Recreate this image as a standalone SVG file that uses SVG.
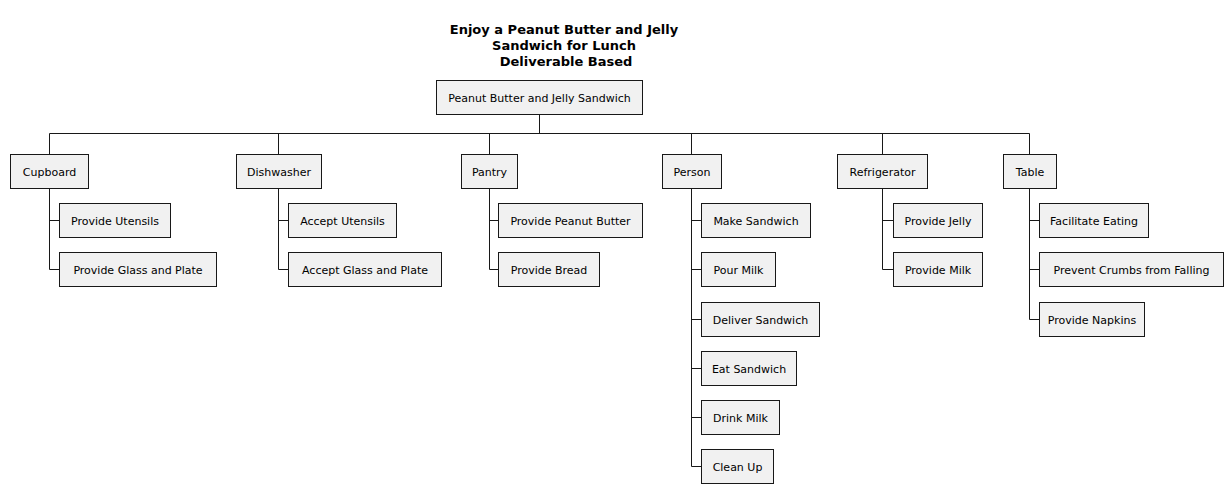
<svg xmlns="http://www.w3.org/2000/svg" width="1232" height="493" viewBox="0 0 1232 493">
<style>
.n rect{fill:#F1F1F1;stroke:#181818;stroke-width:1}
.n text{font-family:"DejaVu Sans","Liberation Sans",sans-serif;font-size:11px;fill:#000;text-anchor:middle}
.t{font-family:"DejaVu Sans","Liberation Sans",sans-serif;font-size:13px;font-weight:bold;fill:#000;text-anchor:middle}
#connectors path{fill:none;stroke:#181818;stroke-width:1}
</style>
<rect width="1232" height="493" fill="#fff"/>
<g id="title">
<text class="t" x="564" y="34">Enjoy a Peanut Butter and Jelly</text>
<text class="t" x="564" y="50">Sandwich for Lunch</text>
<text class="t" x="566" y="66">Deliverable Based</text>
</g>
<g id="connectors">
<path d="M539.5,114 V133.5 M49.5,133.5 H1029.5 M49.5,133.5 V154 M278.5,133.5 V154 M489.5,133.5 V154 M691.5,133.5 V154 M882.5,133.5 V154 M1029.5,133.5 V154"/>
<path d="M49.5,188 V269.5 H59 M49.5,220.5 H59"/>
<path d="M278.5,188 V269.5 H288 M278.5,220.5 H288"/>
<path d="M489.5,188 V269.5 H498 M489.5,220.5 H498"/>
<path d="M691.5,188 V466.5 H701 M691.5,220.5 H701 M691.5,269.5 H701 M691.5,319.5 H701 M691.5,368.5 H701 M691.5,417.5 H701"/>
<path d="M882.5,188 V269.5 H893 M882.5,220.5 H893"/>
<path d="M1029.5,188 V319.5 H1039 M1029.5,220.5 H1039 M1029.5,269.5 H1039"/>
</g>
<g id="root" class="n"><rect x="436.5" y="80.5" width="206" height="34"/><text x="539.5" y="101.5">Peanut Butter and Jelly Sandwich</text></g>
<g id="cupboard" class="n"><rect x="10.5" y="154.5" width="78" height="34"/><text x="49.5" y="175.5">Cupboard</text></g>
<g id="dishwasher" class="n"><rect x="236.5" y="154.5" width="85" height="34"/><text x="279" y="175.5">Dishwasher</text></g>
<g id="pantry" class="n"><rect x="461.5" y="154.5" width="56" height="34"/><text x="489.5" y="175.5">Pantry</text></g>
<g id="person" class="n"><rect x="662.5" y="154.5" width="59" height="34"/><text x="692" y="175.5">Person</text></g>
<g id="refrigerator" class="n"><rect x="837.5" y="154.5" width="90" height="34"/><text x="882.5" y="175.5">Refrigerator</text></g>
<g id="table" class="n"><rect x="1003.5" y="154.5" width="53" height="34"/><text x="1030" y="175.5">Table</text></g>
<g id="provide-utensils" class="n"><rect x="59.5" y="203.5" width="111" height="34"/><text x="115" y="224.5">Provide Utensils</text></g>
<g id="provide-glass-plate" class="n"><rect x="59.5" y="252.5" width="157" height="34"/><text x="138" y="273.5">Provide Glass and Plate</text></g>
<g id="accept-utensils" class="n"><rect x="288.5" y="203.5" width="108" height="34"/><text x="342.5" y="224.5">Accept Utensils</text></g>
<g id="accept-glass-plate" class="n"><rect x="288.5" y="252.5" width="153" height="34"/><text x="365" y="273.5">Accept Glass and Plate</text></g>
<g id="provide-peanut-butter" class="n"><rect x="498.5" y="203.5" width="144" height="34"/><text x="570.5" y="224.5">Provide Peanut Butter</text></g>
<g id="provide-bread" class="n"><rect x="498.5" y="252.5" width="101" height="34"/><text x="549" y="273.5">Provide Bread</text></g>
<g id="make-sandwich" class="n"><rect x="701.5" y="203.5" width="109" height="34"/><text x="756" y="224.5">Make Sandwich</text></g>
<g id="pour-milk" class="n"><rect x="701.5" y="252.5" width="74" height="34"/><text x="738.5" y="273.5">Pour Milk</text></g>
<g id="deliver-sandwich" class="n"><rect x="701.5" y="302.5" width="118" height="34"/><text x="760.5" y="323.5">Deliver Sandwich</text></g>
<g id="eat-sandwich" class="n"><rect x="701.5" y="351.5" width="95" height="34"/><text x="749" y="372.5">Eat Sandwich</text></g>
<g id="drink-milk" class="n"><rect x="701.5" y="400.5" width="78" height="34"/><text x="740.5" y="421.5">Drink Milk</text></g>
<g id="clean-up" class="n"><rect x="701.5" y="449.5" width="72" height="34"/><text x="737.5" y="470.5">Clean Up</text></g>
<g id="provide-jelly" class="n"><rect x="893.5" y="203.5" width="89" height="34"/><text x="938" y="224.5">Provide Jelly</text></g>
<g id="provide-milk" class="n"><rect x="893.5" y="252.5" width="89" height="34"/><text x="938" y="273.5">Provide Milk</text></g>
<g id="facilitate-eating" class="n"><rect x="1039.5" y="203.5" width="109" height="34"/><text x="1094" y="224.5">Facilitate Eating</text></g>
<g id="prevent-crumbs" class="n"><rect x="1039.5" y="252.5" width="184" height="34"/><text x="1131.5" y="273.5">Prevent Crumbs from Falling</text></g>
<g id="provide-napkins" class="n"><rect x="1039.5" y="302.5" width="105" height="34"/><text x="1092" y="323.5">Provide Napkins</text></g>
</svg>
